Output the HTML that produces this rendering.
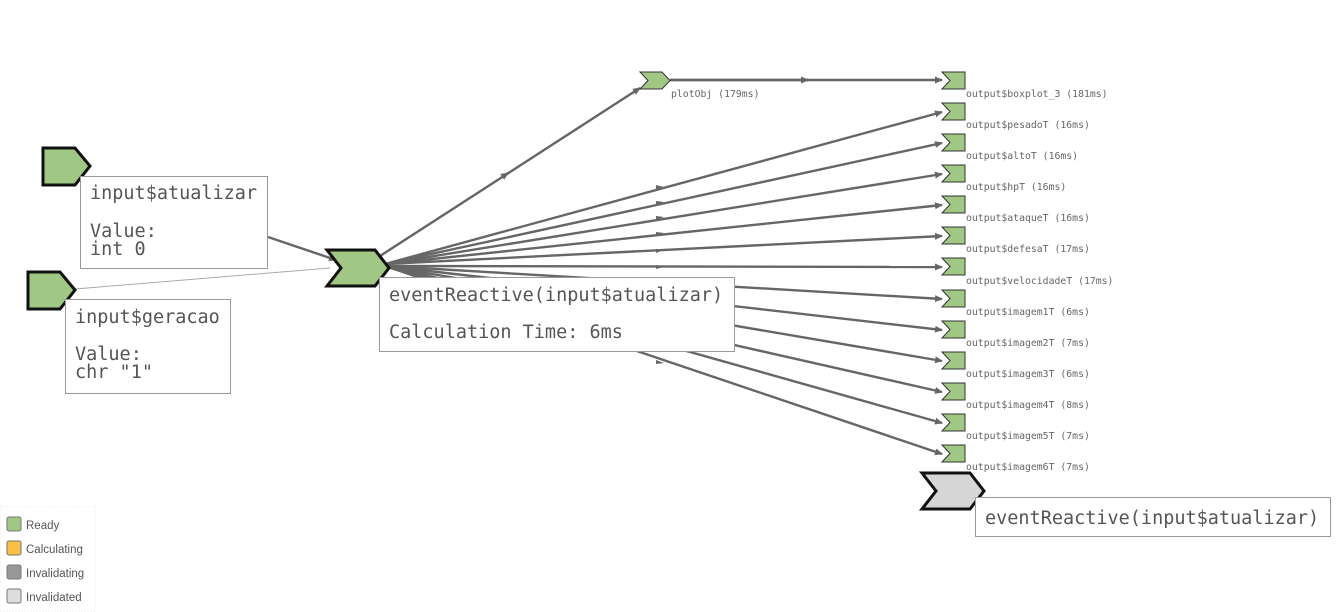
<!DOCTYPE html>
<html><head><meta charset="utf-8"><style>
body{margin:0;background:#fff;width:1344px;height:612px;overflow:hidden;font-family:"Liberation Mono","DejaVu Sans Mono",monospace}
</style></head><body>
<svg width="1344" height="612" xmlns="http://www.w3.org/2000/svg" style="position:absolute;left:0;top:0">
<defs><marker id="a" markerWidth="8" markerHeight="8" refX="7" refY="4" orient="auto" markerUnits="userSpaceOnUse"><path d="M0,0.5 L8,4 L0,7.5z" fill="#666"/></marker></defs>
<g stroke="#666" stroke-width="2.4" fill="none">
<line x1="268" y1="237" x2="336" y2="260" marker-end="url(#a)"/>
<line x1="380" y1="256" x2="640" y2="88" marker-end="url(#a)"/>
<line x1="670" y1="80" x2="942" y2="80" marker-end="url(#a)"/>
<line x1="670" y1="80" x2="808" y2="80" marker-end="url(#a)"/>
<line x1="505" y1="175" x2="508" y2="173" marker-end="url(#a)"/>
</g>
<line x1="75" y1="289" x2="330" y2="268" stroke="#aaa" stroke-width="1"/>
<g stroke="#666" stroke-width="2.4" fill="none">
<line x1="385" y1="264" x2="942" y2="112" marker-end="url(#a)"/>
<line x1="385" y1="264" x2="942" y2="143" marker-end="url(#a)"/>
<line x1="385" y1="264" x2="942" y2="174" marker-end="url(#a)"/>
<line x1="385" y1="264" x2="942" y2="205" marker-end="url(#a)"/>
<line x1="385" y1="264" x2="942" y2="236" marker-end="url(#a)"/>
<line x1="385" y1="266" x2="942" y2="267" marker-end="url(#a)"/>
<line x1="385" y1="266" x2="942" y2="299" marker-end="url(#a)"/>
<line x1="385" y1="266" x2="942" y2="330" marker-end="url(#a)"/>
<line x1="385" y1="266" x2="942" y2="361" marker-end="url(#a)"/>
<line x1="385" y1="266" x2="942" y2="392" marker-end="url(#a)"/>
<line x1="385" y1="266" x2="942" y2="423" marker-end="url(#a)"/>
<line x1="385" y1="266" x2="942" y2="454" marker-end="url(#a)"/>
</g>
<g fill="#666">
<path d="M656,185 l8,2 l-8,3z"/><path d="M656,201 l8,1 l-8,3z"/><path d="M656,216 l8,1 l-8,3z"/><path d="M656,232 l8,1 l-8,3z"/><path d="M656,249 l8,1 l-8,3z"/><path d="M656,265 l8,2 l-8,2z"/><path d="M656,360 l8,3 l-8,1z"/>
</g>
<g fill="#a1c784" stroke="#333" stroke-width="1">
<path d="M942,72 h23 v17 h-23 l8,-8.5z"/>
<path d="M942,103 h23 v17 h-23 l8,-8.5z"/>
<path d="M942,134 h23 v17 h-23 l8,-8.5z"/>
<path d="M942,165 h23 v17 h-23 l8,-8.5z"/>
<path d="M942,196 h23 v17 h-23 l8,-8.5z"/>
<path d="M942,227 h23 v17 h-23 l8,-8.5z"/>
<path d="M942,258 h23 v17 h-23 l8,-8.5z"/>
<path d="M942,290 h23 v17 h-23 l8,-8.5z"/>
<path d="M942,321 h23 v17 h-23 l8,-8.5z"/>
<path d="M942,352 h23 v17 h-23 l8,-8.5z"/>
<path d="M942,383 h23 v17 h-23 l8,-8.5z"/>
<path d="M942,414 h23 v17 h-23 l8,-8.5z"/>
<path d="M942,445 h23 v17 h-23 l8,-8.5z"/>
<path d="M640,72 h22 l8,8.5 l-8,8.5 h-22 l8,-8.5z"/>
</g>
<g font-family="DejaVu Sans Mono, monospace" font-size="9.8" fill="#666">
<text x="671" y="97">plotObj (179ms)</text>
<text x="966" y="97">output$boxplot_3 (181ms)</text>
<text x="966" y="128">output$pesadoT (16ms)</text>
<text x="966" y="159">output$altoT (16ms)</text>
<text x="966" y="190">output$hpT (16ms)</text>
<text x="966" y="221">output$ataqueT (16ms)</text>
<text x="966" y="252">output$defesaT (17ms)</text>
<text x="966" y="284">output$velocidadeT (17ms)</text>
<text x="966" y="315">output$imagem1T (6ms)</text>
<text x="966" y="346">output$imagem2T (7ms)</text>
<text x="966" y="377">output$imagem3T (6ms)</text>
<text x="966" y="408">output$imagem4T (8ms)</text>
<text x="966" y="439">output$imagem5T (7ms)</text>
<text x="966" y="470">output$imagem6T (7ms)</text>
</g>
<g stroke="#111" stroke-width="3" stroke-linejoin="miter">
<path d="M43,148 h32 l15,18 l-15,19 h-32z" fill="#a1c784"/>
<path d="M28,272 h32 l15,18 l-15,19 h-32z" fill="#a1c784"/>
<path d="M327,250 h48 l14,18 l-14,18 h-48 l14,-18z" fill="#a1c784"/>
<path d="M922,473 h48 l14,18 l-14,18 h-48 l14,-18z" fill="#d6d6d6"/>
</g>
<g fill="#fff" stroke="#999" stroke-width="1">
<rect x="80.5" y="176.5" width="187" height="92"/>
<rect x="65.5" y="299.5" width="165" height="94"/>
<rect x="379.5" y="277.5" width="355" height="74"/>
<rect x="975.5" y="497.5" width="355" height="39"/>
</g>
<g font-family="DejaVu Sans Mono, monospace" font-size="18.5" fill="#555">
<text x="90" y="199">input$atualizar</text>
<text x="90" y="237">Value:</text>
<text x="90" y="255">int 0</text>
<text x="75" y="323">input$geracao</text>
<text x="75" y="360">Value:</text>
<text x="75" y="378">chr "1"</text>
<text x="389" y="301">eventReactive(input$atualizar)</text>
<text x="389" y="338">Calculation Time: 6ms</text>
<text x="985" y="524">eventReactive(input$atualizar)</text>
</g>
<rect x="0.5" y="506.5" width="95" height="105" fill="none" stroke="#eee" stroke-dasharray="1,2"/>
<g stroke="#777" stroke-width="1">
<rect x="7" y="517" width="14" height="14" rx="2" fill="#a1c784"/>
<rect x="7" y="541" width="14" height="14" rx="2" fill="#fbbf45"/>
<rect x="7" y="565" width="14" height="14" rx="2" fill="#999"/>
<rect x="7" y="589" width="14" height="14" rx="2" fill="#ddd"/>
</g>
<g font-family="Liberation Sans, sans-serif" font-size="11.5" fill="#555">
<text x="26" y="529">Ready</text>
<text x="26" y="553">Calculating</text>
<text x="26" y="577">Invalidating</text>
<text x="26" y="601">Invalidated</text>
</g>
</svg>
</body></html>
